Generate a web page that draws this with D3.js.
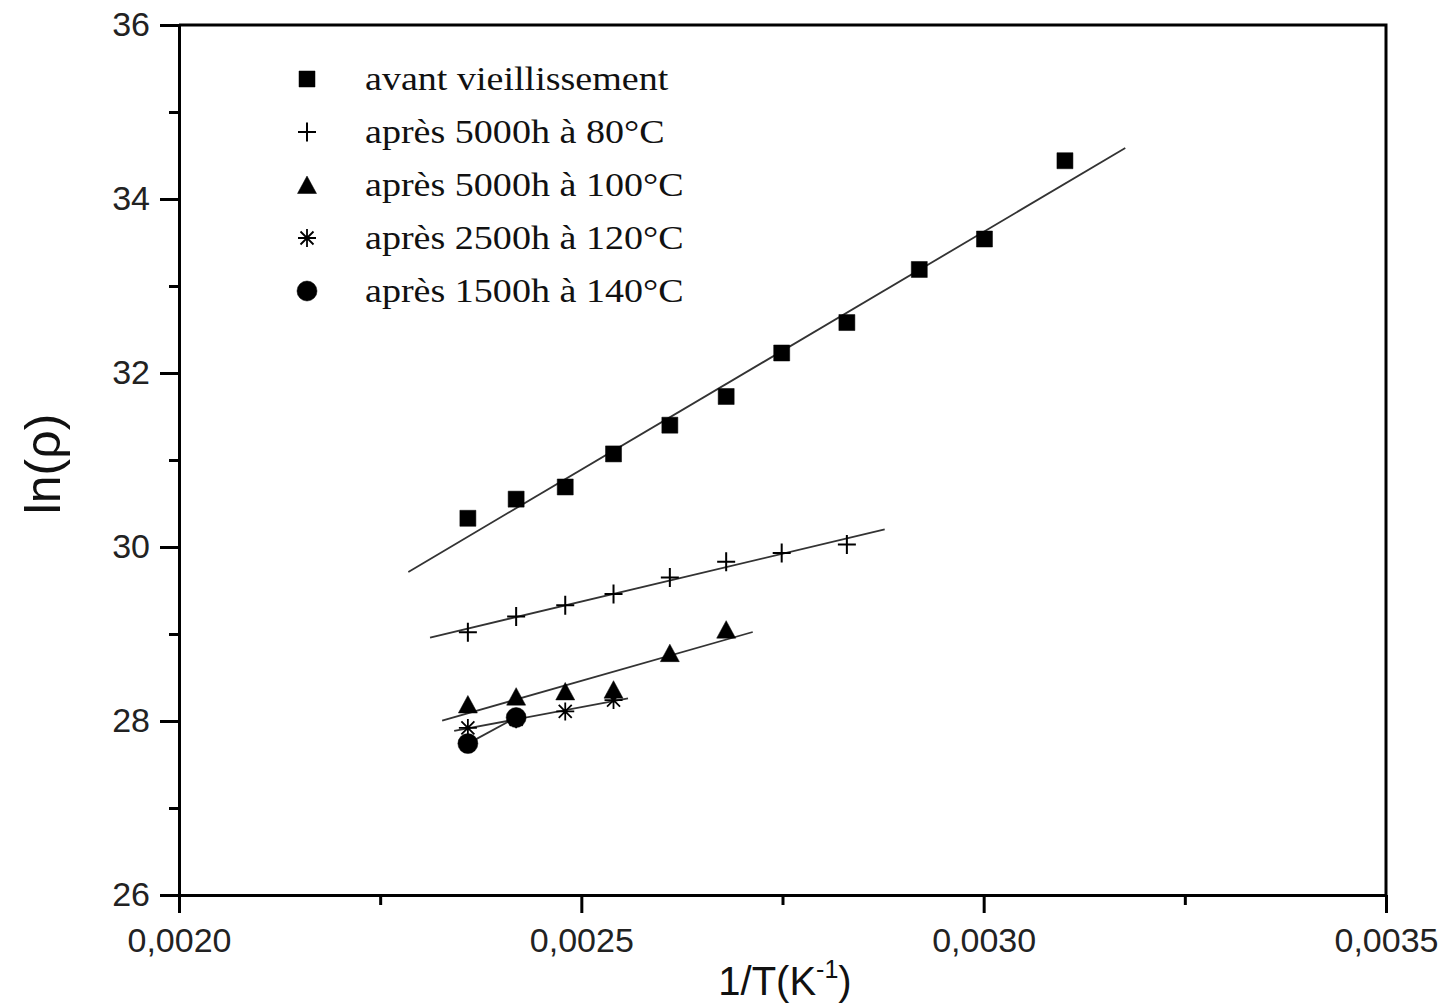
<!DOCTYPE html>
<html>
<head>
<meta charset="utf-8">
<script src="https://cdn.jsdelivr.net/npm/d3@7"></script>
<style>
    body { margin: 0; background: #fff; }
    svg { display: block; }
</style>
</head>
<body>
<svg id="chart" width="1446" height="1008"></svg>
<script>
// 1/T values (K^-1), shared by every series (first n points used)
var invT = [0.002359, 0.002419, 0.002480, 0.002540, 0.002610, 0.002680,
            0.002749, 0.002830, 0.002920, 0.003001, 0.003101];

// ln(rho) per series
var avant = [30.33, 30.55, 30.69, 31.07, 31.40, 31.73, 32.23, 32.58, 33.19, 33.54, 34.44];
var apres80 = [29.02, 29.20, 29.33, 29.46, 29.65, 29.83, 29.93, 30.03];
var apres100 = [28.19, 28.28, 28.34, 28.36, 28.78, 29.05];
var apres120 = [27.92, 28.02, 28.11, 28.24];
var apres140 = [27.74, 28.04];

var seriesNames = ['avant vieillissement', 'après 5000h à 80°C', 'après 5000h à 100°C',
                   'après 2500h à 120°C', 'après 1500h à 140°C'];
var markerTypes = ['square', 'plus', 'triangle', 'star', 'circle'];

// x range over which each linear fit is drawn
var fitFrom = [0.002285, 0.002312, 0.002327, 0.002342, 0.002359];
var fitTo = [0.003176, 0.002877, 0.002713, 0.002558, 0.002419];

var xTicks = [0.0020, 0.0025, 0.0030, 0.0035];
var xMinor = [0.00225, 0.00275, 0.00325];
var yTicks = [26, 28, 30, 32, 34, 36];
var yMinor = [27, 29, 31, 33, 35];

var svg = d3.select('#chart'),
    x = d3.scaleLinear().domain([0.0020, 0.0035]).range([179, 1386]),
    y = d3.scaleLinear().domain([26, 36]).range([895, 25]);

var comma = d3.formatLocale({decimal: ',', thousands: ' ', grouping: [3], currency: ['', '']}).format('.4f');

var allSeries = [avant, apres80, apres100, apres120, apres140];

function markerPath(type) {
    if (type == 'square') return 'M-8,-8H8V8H-8Z';
    if (type == 'triangle') return 'M0,-9L9.5,8.5L-9.5,8.5Z';
    if (type == 'plus') return 'M-9,0H9M0,-9.5V9.5';
    if (type == 'star') return 'M-9,0H9M0,-9V9M-6.5,-6.5L6.5,6.5M-6.5,6.5L6.5,-6.5';
    return d3.symbol(d3.symbolCircle, Math.PI * 100)();
}

function addMarker(g, type) {
    var filled = type == 'square' || type == 'triangle' || type == 'circle';
    g.append('path')
        .attr('d', markerPath(type))
        .attr('fill', filled ? '#000' : 'none')
        .attr('stroke', '#000')
        .attr('stroke-width', filled ? 0.5 : (type == 'plus' ? 2 : 1.8));
}

function linearFit(xs, ys) {
    var mx = d3.mean(xs), my = d3.mean(ys), sxy = 0, sxx = 0;
    for (var i = 0; i < xs.length; i++) {
        sxy += (xs[i] - mx) * (ys[i] - my);
        sxx += (xs[i] - mx) * (xs[i] - mx);
    }
    var b = sxy / sxx;
    return {a: my - b * mx, b: b};
}

// axes
var axisX = svg.append('g').attr('transform', 'translate(0,895)')
    .call(d3.axisBottom(x).tickValues(xTicks).tickFormat(comma).tickSize(18).tickSizeOuter(0).tickPadding(15));
var axisXm = svg.append('g').attr('transform', 'translate(0,895)')
    .call(d3.axisBottom(x).tickValues(xMinor).tickFormat('').tickSize(10).tickSizeOuter(0));
var axisY = svg.append('g').attr('transform', 'translate(179,0)')
    .call(d3.axisLeft(y).tickValues(yTicks).tickSize(19).tickSizeOuter(0).tickPadding(10));
var axisYm = svg.append('g').attr('transform', 'translate(179,0)')
    .call(d3.axisLeft(y).tickValues(yMinor).tickFormat('').tickSize(10).tickSizeOuter(0));

[axisX, axisXm, axisY, axisYm].forEach(function (a) {
    a.selectAll('path, line').attr('stroke', '#000').attr('stroke-width', 3);
    a.selectAll('text').attr('fill', '#222')
        .style('font-family', '"Liberation Sans", Arial, sans-serif')
        .style('font-size', '34px');
});
axisXm.select('.domain').remove();
axisYm.select('.domain').remove();

// top and right border
svg.append('path')
    .attr('d', 'M' + x(0.0020) + ',' + y(36) + 'H' + x(0.0035) + 'V' + y(26))
    .attr('fill', 'none').attr('stroke', '#000').attr('stroke-width', 3);

// fit lines
allSeries.forEach(function (vals, i) {
    var xs = invT.slice(0, vals.length),
        f = linearFit(xs, vals);
    svg.append('line')
        .attr('x1', x(fitFrom[i])).attr('y1', y(f.a + f.b * fitFrom[i]))
        .attr('x2', x(fitTo[i])).attr('y2', y(f.a + f.b * fitTo[i]))
        .attr('stroke', '#333').attr('stroke-width', 1.8);
});

// points
allSeries.forEach(function (vals, i) {
    vals.forEach(function (v, j) {
        var g = svg.append('g').attr('transform', 'translate(' + x(invT[j]) + ',' + y(v) + ')');
        addMarker(g, markerTypes[i]);
    });
});

// legend
var legendY = [79, 132, 185, 238, 291];
seriesNames.forEach(function (name, i) {
    var g = svg.append('g').attr('transform', 'translate(307,' + legendY[i] + ')');
    addMarker(g, markerTypes[i]);
    svg.append('text')
        .attr('transform', 'translate(365,' + (legendY[i] + 11) + ') scale(1.12,1)')
        .style('font-family', '"Liberation Serif", "Times New Roman", serif')
        .style('font-size', '34px')
        .attr('fill', '#111')
        .text(name);
});

// axis titles
var xTitle = svg.append('text')
    .attr('x', 785).attr('y', 995)
    .attr('text-anchor', 'middle')
    .style('font-family', '"Liberation Sans", Arial, sans-serif')
    .style('font-size', '40px')
    .attr('fill', '#111');
xTitle.append('tspan').text('1/T(K');
xTitle.append('tspan').attr('dy', -17).style('font-size', '25px').text('-1');
xTitle.append('tspan').attr('dy', 17).text(')');

svg.append('text')
    .attr('transform', 'translate(60,464) rotate(-90)')
    .attr('text-anchor', 'middle')
    .style('font-family', '"Liberation Sans", Arial, sans-serif')
    .style('font-size', '50px')
    .attr('fill', '#111')
    .text('ln(ρ)');
</script>
</body>
</html>
